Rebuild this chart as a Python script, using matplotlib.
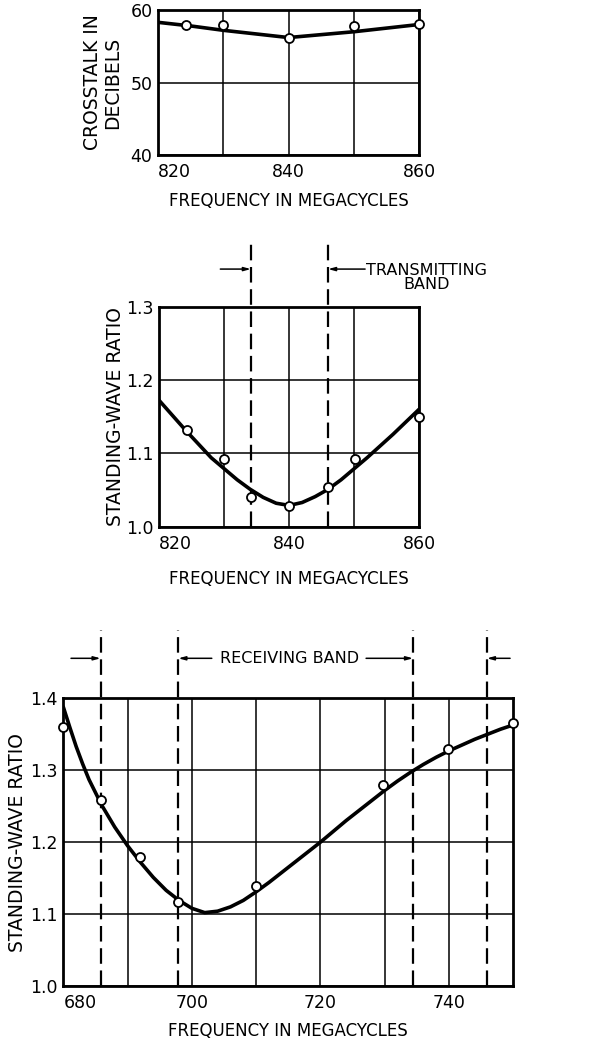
import matplotlib
matplotlib.use("Agg")
import matplotlib.pyplot as plt

# ---- data ----
# Top: crosstalk
xt_pts_f = [824.3, 830, 840, 850, 860]
xt_pts_db = [57.9, 58.0, 56.1, 57.8, 58.1]
xt_curve_f = [820, 825, 830, 835, 840, 845, 850, 855, 860]
xt_curve_db = [58.3, 57.8, 57.2, 56.7, 56.2, 56.6, 57.0, 57.5, 58.0]

# Middle: transmitting band SWR
tx_pts_f = [824.3, 830, 834.1, 840, 846, 850.2, 860]
tx_pts_swr = [1.132, 1.092, 1.041, 1.028, 1.054, 1.092, 1.149]
tx_curve_f = [820, 822, 824, 826, 828, 830, 832, 834, 836, 838, 840, 842, 844,
              846, 848, 850, 852, 854, 856, 858, 860]
tx_curve_swr = [1.172, 1.152, 1.132, 1.113, 1.094, 1.079, 1.064, 1.051, 1.040,
                1.032, 1.029, 1.033, 1.041, 1.051, 1.064, 1.079, 1.094, 1.110,
                1.126, 1.143, 1.160]
tx_band_edges = [834.1, 846.0]

# Bottom: receiving band SWR
rx_pts_f = [680, 685.8, 692.0, 697.9, 710.0, 729.7, 739.8, 750]
rx_pts_swr = [1.360, 1.258, 1.179, 1.117, 1.139, 1.280, 1.329, 1.365]
rx_curve_f = [680, 681, 682, 683, 684, 686, 688, 690, 692, 694, 696, 698, 700,
              702, 704, 706, 708, 710, 712, 714, 716, 718, 720, 722, 724, 726,
              728, 730, 732, 734, 736, 738, 740, 742, 744, 746, 748, 750]
rx_curve_swr = [1.388, 1.360, 1.333, 1.309, 1.287, 1.251, 1.221, 1.195, 1.172,
                1.151, 1.133, 1.119, 1.108, 1.102, 1.104, 1.110, 1.119, 1.131,
                1.144, 1.158, 1.172, 1.186, 1.200, 1.215, 1.230, 1.244, 1.258,
                1.272, 1.285, 1.297, 1.308, 1.318, 1.327, 1.335, 1.343, 1.350,
                1.357, 1.363]
rx_band_edges = [685.8, 697.9, 734.4, 745.9]

XLABEL = "FREQUENCY IN MEGACYCLES"

plt.rcParams['font.family'] = ['DejaVu Sans']

fig = plt.figure(figsize=(5.98, 10.39), dpi=100)

def fpos(left, top, right, bottom):
    W, H = 598.0, 1039.0
    return [left / W, 1 - bottom / H, (right - left) / W, (bottom - top) / H]

def style_axes(ax, xlim, ylim, xmajor, xminor, yticks, ylabels, xpad=7):
    ax.set_xlim(*xlim)
    ax.set_ylim(*ylim)
    ax.set_xticks(xmajor)
    ax.set_xticks(xminor, minor=True)
    ax.set_yticks(yticks)
    ax.set_yticklabels(ylabels)
    ax.grid(True, which='both', color='black', lw=1.1)
    ax.tick_params(which='both', length=0)
    ax.tick_params(axis='x', pad=xpad, labelsize=12.5)
    ax.tick_params(axis='y', pad=4, labelsize=12.5)
    for s in ax.spines.values():
        s.set_linewidth(2.0)
    ax.set_axisbelow(True)
    lbls = ax.get_xticklabels()
    lbls[0].set_horizontalalignment('left')

def plot_data(ax, cf, cy, pf, py):
    ax.plot(cf, cy, color='black', lw=2.6, solid_capstyle='round', zorder=3)
    ax.plot(pf, py, 'o', ms=6.5, mfc='white', mec='black', mew=1.3,
            zorder=4, clip_on=False)

arrow_kw = dict(arrowstyle='-|>,head_length=0.4,head_width=0.11',
                color='black', lw=1.1, shrinkA=0, shrinkB=0)

def arrow(ax, tail, head, yfrac):
    ax.annotate('', xy=(head, yfrac), xytext=(tail, yfrac),
                xycoords=('data', 'axes fraction'),
                textcoords=('data', 'axes fraction'),
                arrowprops=arrow_kw, annotation_clip=False)

dash = (0, (7, 3))
YL = 13.5
XL = 12

# ---- top ----
ax1 = fig.add_axes(fpos(158, 10, 419, 155))
style_axes(ax1, (820, 860), (40, 60), [820, 840, 860], [830, 850],
           [40, 50, 60], ['40', '50', '60'], xpad=6)
plot_data(ax1, xt_curve_f, xt_curve_db, xt_pts_f, xt_pts_db)
ax1.set_ylabel("CROSSTALK IN\nDECIBELS", fontsize=YL, labelpad=6,
               linespacing=1.05)
ax1.set_xlabel(XLABEL, fontsize=XL, labelpad=8)

# ---- middle ----
ax2 = fig.add_axes(fpos(159.3, 306.7, 419, 526.7))
style_axes(ax2, (820, 860), (1.0, 1.3), [820, 840, 860], [830, 850],
           [1.0, 1.1, 1.2, 1.3], ['1.0', '1.1', '1.2', '1.3'], xpad=6)
plot_data(ax2, tx_curve_f, tx_curve_swr, tx_pts_f, tx_pts_swr)
for xe in tx_band_edges:
    ax2.axvline(xe, ymin=0, ymax=1.30, color='black', lw=1.6,
                linestyle=dash, clip_on=False, zorder=2)
arrow(ax2, 829.4, tx_band_edges[0], 1.171)
arrow(ax2, 851.7, tx_band_edges[1], 1.171)
ax2.text(861.2, 1.133, "TRANSMITTING\nBAND", transform=ax2.get_xaxis_transform(),
         ha='center', va='center', multialignment='center', fontsize=11.5,
         linespacing=0.95)
ax2.set_ylabel("STANDING-WAVE RATIO", fontsize=YL, labelpad=1)
ax2.set_xlabel(XLABEL, fontsize=XL, labelpad=12)

# ---- bottom ----
ax3 = fig.add_axes(fpos(63.3, 698.3, 513.3, 986))
style_axes(ax3, (680, 750), (1.0, 1.4), [680, 700, 720, 740],
           [690, 710, 730],
           [1.0, 1.1, 1.2, 1.3, 1.4], ['1.0', '1.1', '1.2', '1.3', '1.4'],
           xpad=6)
plot_data(ax3, rx_curve_f, rx_curve_swr, rx_pts_f, rx_pts_swr)
for xe in rx_band_edges:
    ax3.axvline(xe, ymin=0, ymax=1.237, color='black', lw=1.6,
                linestyle=dash, clip_on=False, zorder=2)
arrow(ax3, 681.2, rx_band_edges[0], 1.139)
arrow(ax3, 703.1, rx_band_edges[1], 1.139)
arrow(ax3, 727.1, rx_band_edges[2], 1.139)
arrow(ax3, 749.5, rx_band_edges[3], 1.139)
ax3.text(715.2, 1.139, "RECEIVING BAND", transform=ax3.get_xaxis_transform(),
         ha='center', va='center', fontsize=11.5)
ax3.set_ylabel("STANDING-WAVE RATIO", fontsize=YL, labelpad=2)
ax3.set_xlabel(XLABEL, fontsize=XL, labelpad=7)

fig.savefig("out.png", dpi=100)
